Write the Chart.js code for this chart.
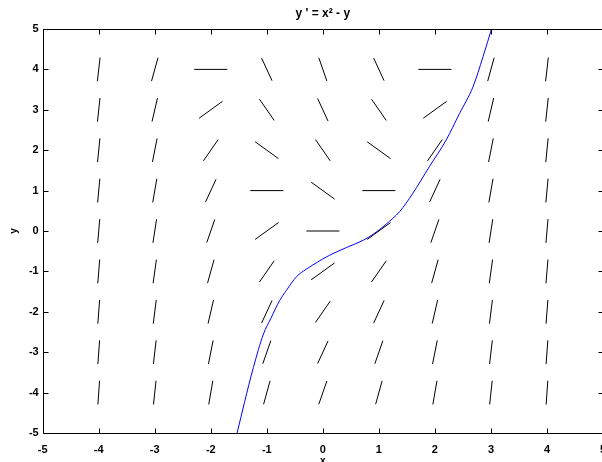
<!DOCTYPE html>
<html>
<head>
<meta charset="utf-8">
<title>Slope field y' = x^2 - y</title>
<script src="https://cdn.jsdelivr.net/npm/chart.js@4"></script>
<style>
  html, body { margin: 0; padding: 0; background: #ffffff; overflow: hidden; }
  #frame { width: 602px; height: 462px; overflow: hidden; position: relative; }
  #chart { position: absolute; left: 0; top: 0; width: 610px; height: 470px; }
</style>
</head>
<body>
<div id="frame"><canvas id="chart" width="610" height="470"></canvas></div>
<script>
// Grid of sample points for the direction field
const gridX = [-4, -3, -2, -1, 0, 1, 2, 3, 4];
const gridY = [4, 3, 2, 1, 0, -1, -2, -3, -4];

// Slope y' at each grid point, one row per y value (top row is y = 4)
const slopeRows = [
  [12, 5, 0, -3, -4, -3, 0, 5, 12],
  [13, 6, 1, -2, -3, -2, 1, 6, 13],
  [14, 7, 2, -1, -2, -1, 2, 7, 14],
  [15, 8, 3, 0, -1, 0, 3, 8, 15],
  [16, 9, 4, 1, 0, 1, 4, 9, 16],
  [17, 10, 5, 2, 1, 2, 5, 10, 17],
  [18, 11, 6, 3, 2, 3, 6, 11, 18],
  [19, 12, 7, 4, 3, 4, 7, 12, 19],
  [20, 13, 8, 5, 4, 5, 8, 13, 20]
];

// One solution curve
const curveX = [-1.53, -1.40, -1.24, -1.06, -0.93, -0.77, -0.65, -0.47, -0.30, -0.12, 0.12, 0.42, 0.72, 0.90, 1.13, 1.37, 1.60, 1.90, 2.20, 2.44, 2.68, 2.86, 3.01];
const curveY = [-5.00, -4.25, -3.38, -2.55, -2.17, -1.72, -1.47, -1.13, -0.95, -0.79, -0.60, -0.41, -0.23, -0.08, 0.17, 0.48, 0.92, 1.59, 2.25, 2.91, 3.57, 4.32, 5.00];

// Axis ticks
const xTickValues = [-5, -4, -3, -2, -1, 0, 1, 2, 3, 4, 5];
const yTickValues = [-5, -4, -3, -2, -1, 0, 1, 2, 3, 4, 5];

const SEG_LEN = 0.59;   // segment length in data units

const datasets = [];
gridY.forEach((y, r) => {
  gridX.forEach((x, c) => {
    const s = slopeRows[r][c];
    const n = Math.sqrt(1 + s * s);
    const dx = (SEG_LEN / 2) / n;
    const dy = (SEG_LEN / 2) * s / n;
    datasets.push({
      data: [{ x: x - dx, y: y - dy }, { x: x + dx, y: y + dy }],
      showLine: true,
      borderColor: '#000000',
      borderWidth: 1,
      pointRadius: 0,
      fill: false
    });
  });
});

datasets.push({
  data: curveX.map((x, i) => ({ x: x, y: curveY[i] })),
  showLine: true,
  borderColor: '#0000ff',
  borderWidth: 1,
  pointRadius: 0,
  cubicInterpolationMode: 'monotone',
  fill: false
});

// Box around the plot with inward tick marks on all four sides
const boxAxes = {
  id: 'boxAxes',
  afterDatasetsDraw(chart) {
    const { ctx, chartArea: a, scales: { x, y } } = chart;
    const L = 5;
    const px = v => Math.round(v) + 0.5;
    ctx.save();
    ctx.strokeStyle = '#000000';
    ctx.lineWidth = 1;
    ctx.beginPath();
    const l = px(a.left), r = px(a.right), t = px(a.top), b = px(a.bottom);
    ctx.moveTo(l, t); ctx.lineTo(r, t); ctx.lineTo(r, b); ctx.lineTo(l, b); ctx.closePath();
    xTickValues.forEach(v => {
      const p = px(x.getPixelForValue(v));
      ctx.moveTo(p, b); ctx.lineTo(p, b - L);
      ctx.moveTo(p, t); ctx.lineTo(p, t + L);
    });
    yTickValues.forEach(v => {
      const p = px(y.getPixelForValue(v));
      ctx.moveTo(l, p); ctx.lineTo(l + L, p);
      ctx.moveTo(r, p); ctx.lineTo(r - L, p);
    });
    ctx.stroke();
    ctx.restore();
  }
};

const tickFont = { family: '"Liberation Sans", Arial, sans-serif', size: 11, weight: 'bold' };

new Chart(document.getElementById('chart'), {
  type: 'scatter',
  data: { datasets: datasets },
  plugins: [boxAxes],
  options: {
    responsive: false,
    maintainAspectRatio: false,
    devicePixelRatio: 1,
    animation: false,
    events: [],
    layout: { padding: { left: 0, right: 7, top: 0, bottom: 0 } },
    plugins: {
      legend: { display: false },
      tooltip: { enabled: false },
      title: {
        display: true,
        text: "y ' = x² - y",
        fullSize: false,
        color: '#000000',
        font: { family: '"Liberation Sans", Arial, sans-serif', size: 12, weight: 'bold' },
        padding: { top: 6, bottom: 8.6 }
      }
    },
    scales: {
      x: {
        type: 'linear',
        min: -5,
        max: 5,
        afterBuildTicks: s => { s.ticks = xTickValues.map(v => ({ value: v })); },
        afterFit: s => { s.height = 37; s.paddingLeft = 0; s.paddingRight = 0; },
        grid: { display: false, drawTicks: false },
        border: { display: false },
        ticks: { color: '#000000', font: tickFont, padding: 10, maxRotation: 0, autoSkip: false },
        title: {
          display: true,
          text: 'x',
          color: '#000000',
          font: { family: '"Liberation Sans", Arial, sans-serif', size: 10, weight: 'bold' },
          padding: { top: 0, bottom: 3 }
        }
      },
      y: {
        type: 'linear',
        min: -5,
        max: 5,
        afterBuildTicks: s => { s.ticks = yTickValues.map(v => ({ value: v })); },
        afterFit: s => { s.width = 42.7; s.paddingTop = 0; s.paddingBottom = 0; },
        grid: { display: false, drawTicks: false },
        border: { display: false },
        ticks: { color: '#000000', font: tickFont, padding: 4, autoSkip: false },
        title: {
          display: true,
          text: 'y',
          color: '#000000',
          font: { family: '"Liberation Sans", Arial, sans-serif', size: 10, weight: 'bold' },
          padding: { top: 8, bottom: 0 }
        }
      }
    }
  }
});
</script>
</body>
</html>
